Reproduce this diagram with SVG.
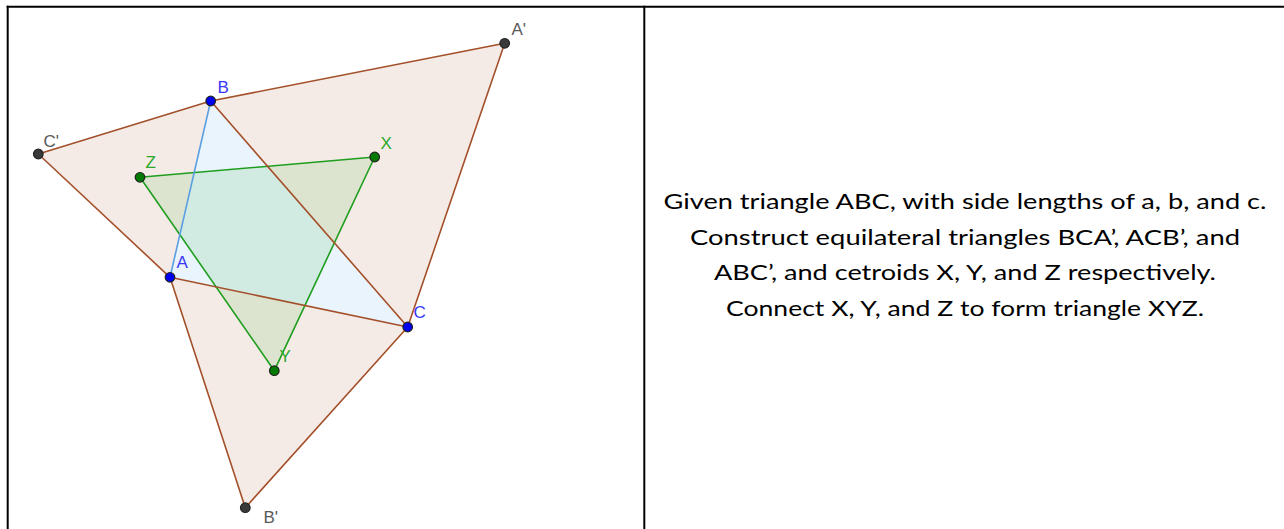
<svg xmlns="http://www.w3.org/2000/svg" width="1284" height="529" viewBox="0 0 1284 529">
  <style>
    .eq { fill: #F5EBE6; stroke: none; }
    .brown { stroke: #A3502A; stroke-width: 1.6; fill: none; stroke-linejoin: round; }
    .green { stroke: #1E9E1E; stroke-width: 1.6; fill: rgb(0,153,0); fill-opacity: 0.1; stroke-linejoin: round; }
    .ab { stroke: #5A9FE2; stroke-width: 1.6; }
    .pt { stroke: #222; stroke-width: 1.2; }
    .pb { fill: #0000F0; }
    .pd { fill: #3A3A3A; }
    .pg { fill: #007A00; }
    .lbl { font-family: "Liberation Sans", Arial, sans-serif; font-size: 17px; }
    .lb { fill: #3838F5; }
    .ld { fill: #5A5A5A; }
    .lg { fill: #2CA82C; }
    .desc { font-family: Lato, "Open Sans", sans-serif; font-size: 22px; fill: #000; text-anchor: middle; }
    .border { stroke: #000; stroke-width: 2; fill: none; }
  </style>

  <rect x="0" y="0" width="1284" height="529" fill="#FFFFFF"/>

  <g id="table">
    <line class="border" x1="6.7" y1="6.7" x2="1284" y2="6.7"/>
    <line class="border" x1="7.7" y1="5.7" x2="7.7" y2="529"/>
    <line class="border" x1="644.3" y1="5.7" x2="644.3" y2="529"/>
  </g>

  <g id="figure">
    <g id="fills">
      <polygon class="eq" points="210.7,101 407.7,327 504.7,43.3"/>
      <polygon class="eq" points="170,277.3 407.7,327 245.3,507.7"/>
      <polygon class="eq" points="170,277.3 210.7,101 38.3,154"/>
      <polygon id="triangle-ABC" fill="#EAF4FC" points="170,277.3 210.7,101 407.7,327"/>
    </g>
    <g id="triangle-XYZ">
      <polygon class="green" points="374.7,157 274.3,370.7 140,177.3"/>
    </g>
    <g id="edges">
      <line class="ab" x1="170" y1="277.3" x2="210.7" y2="101"/>
      <polygon class="brown" points="210.7,101 407.7,327 504.7,43.3"/>
      <polygon class="brown" points="170,277.3 407.7,327 245.3,507.7"/>
      <polyline class="brown" points="170,277.3 38.3,154 210.7,101"/>
    </g>
    <g id="points">
      <circle class="pt pb" cx="210.7" cy="101" r="4.8"/>
      <circle class="pt pb" cx="170" cy="277.3" r="4.8"/>
      <circle class="pt pb" cx="407.7" cy="327" r="4.8"/>
      <circle class="pt pd" cx="504.7" cy="43.3" r="4.8"/>
      <circle class="pt pd" cx="245.3" cy="507.7" r="4.8"/>
      <circle class="pt pd" cx="38.3" cy="154" r="4.8"/>
      <circle class="pt pg" cx="374.7" cy="157" r="4.8"/>
      <circle class="pt pg" cx="274.3" cy="370.7" r="4.8"/>
      <circle class="pt pg" cx="140" cy="177.3" r="4.8"/>
    </g>
    <g id="labels" class="lbl">
      <text class="lb" x="217.5" y="93">B</text>
      <text class="lb" x="176.5" y="268">A</text>
      <text class="lb" x="413.5" y="318">C</text>
      <text class="ld" x="511.5" y="35">A'</text>
      <text class="ld" x="263.5" y="523">B'</text>
      <text class="ld" x="43.5" y="147">C'</text>
      <text class="lg" x="380.5" y="149">X</text>
      <text class="lg" x="279.5" y="362">Y</text>
      <text class="lg" x="145.5" y="168">Z</text>
    </g>
  </g>

  <g id="description" class="desc">
    <text x="965" y="209" textLength="603" lengthAdjust="spacingAndGlyphs">Given triangle ABC, with side lengths of a, b, and c.</text>
    <text x="965" y="244.5" textLength="550" lengthAdjust="spacingAndGlyphs">Construct equilateral triangles BCA’, ACB’, and</text>
    <text x="965" y="280" textLength="502" lengthAdjust="spacingAndGlyphs">ABC’, and cetroids X, Y, and Z respectively.</text>
    <text x="965" y="315.5" textLength="478" lengthAdjust="spacingAndGlyphs">Connect X, Y, and Z to form triangle XYZ.</text>
  </g>
</svg>
